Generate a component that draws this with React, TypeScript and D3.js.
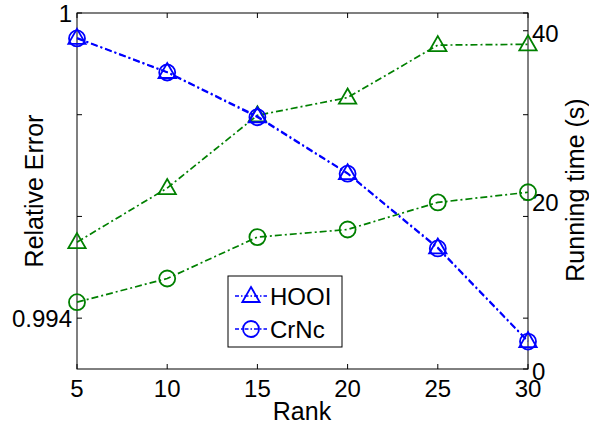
import React, { useEffect, useRef } from 'react'
import * as d3 from 'd3'

const ranks = [5, 10, 15, 20, 25, 30]
const errHOOI = [0.99951, 0.99884, 0.99797, 0.99685, 0.99539, 0.99355]
const errCrNc = [0.99950, 0.99883, 0.99795, 0.99684, 0.99537, 0.99354]
const timeHOOI = [15.0, 21.4, 30.0, 32.1, 38.3, 38.4]
const timeCrNc = [7.9, 10.7, 15.6, 16.5, 19.7, 20.9]
const leftTicks = [0.994, 0.996, 0.998, 1]
const leftLabels = ['0.994', '', '', '1']
const rightTicks = [0, 20, 40]
const legendNames = ['HOOI', 'CrNc']

const W = 589
const H = 429
const FONT = 'Liberation Sans, Arial, sans-serif'

export default function App() {
  const ref = useRef<SVGSVGElement>(null)

  useEffect(() => {
    const svg = d3.select(ref.current)
    svg.selectAll('*').remove()
    const m = { left: 77, right: 528, top: 13, bottom: 369 }

    const x = d3.scaleLinear().domain([5, 30]).range([m.left, m.right])
    const yL = d3.scaleLinear().domain([0.993, 1]).range([m.bottom, m.top])
    const yR = d3.scaleLinear().domain([0, 42.1]).range([m.bottom, m.top])

    const blue = '#0000ff'
    const green = '#008000'
    const dash = '7,3,2,3'

    // box
    svg.append('rect')
      .attr('x', m.left).attr('y', m.top)
      .attr('width', m.right - m.left).attr('height', m.bottom - m.top)
      .attr('fill', 'white').attr('stroke', 'black').attr('stroke-width', 1)

    const tl = 5
    // x ticks (bottom and top)
    ranks.forEach(r => {
      svg.append('line').attr('x1', x(r)).attr('x2', x(r))
        .attr('y1', m.bottom).attr('y2', m.bottom - tl).attr('stroke', 'black')
      svg.append('line').attr('x1', x(r)).attr('x2', x(r))
        .attr('y1', m.top).attr('y2', m.top + tl).attr('stroke', 'black')
      svg.append('text').text(r)
        .attr('x', x(r)).attr('y', 397)
        .attr('text-anchor', 'middle').attr('font-size', 24).attr('font-family', FONT)
    })

    // left ticks, mirrored on right
    leftTicks.forEach((t, i) => {
      svg.append('line').attr('x1', m.left).attr('x2', m.left + tl)
        .attr('y1', yL(t)).attr('y2', yL(t)).attr('stroke', 'black')
      svg.append('line').attr('x1', m.right).attr('x2', m.right - tl)
        .attr('y1', yL(t)).attr('y2', yL(t)).attr('stroke', 'black')
      if (leftLabels[i]) {
        svg.append('text').text(leftLabels[i])
          .attr('x', m.left - 5).attr('y', yL(t) + 9)
          .attr('text-anchor', 'end').attr('font-size', 24).attr('font-family', FONT)
      }
    })

    // right ticks
    rightTicks.forEach(t => {
      svg.append('line').attr('x1', m.right).attr('x2', m.right - tl)
        .attr('y1', yR(t)).attr('y2', yR(t)).attr('stroke', 'black')
      svg.append('text').text(t)
        .attr('x', m.right + 4).attr('y', yR(t) + 11)
        .attr('text-anchor', 'start').attr('font-size', 24).attr('font-family', FONT)
    })

    // axis labels
    svg.append('text').text('Rank')
      .attr('x', 302).attr('y', 420)
      .attr('text-anchor', 'middle').attr('font-size', 25).attr('font-family', FONT)
    svg.append('text').text('Relative Error')
      .attr('transform', `translate(43,191) rotate(-90)`)
      .attr('text-anchor', 'middle').attr('font-size', 25).attr('font-family', FONT)
    svg.append('text').text('Running time (s)')
      .attr('transform', `translate(584,190) rotate(-90)`)
      .attr('text-anchor', 'middle').attr('font-size', 25).attr('font-family', FONT)

    const tri = d3.symbol().type(d3.symbolTriangle).size(130)

    const drawSeries = (vals: number[], y: d3.ScaleLinear<number, number>, color: string, marker: string) => {
      const line = d3.line<number>().x((_, i) => x(ranks[i])).y(d => y(d))
      svg.append('path').attr('d', line(vals) as string)
        .attr('fill', 'none').attr('stroke', color).attr('stroke-width', 1.7)
        .attr('stroke-dasharray', dash)
      vals.forEach((v, i) => {
        if (marker === 'tri') {
          svg.append('path').attr('d', tri() as string)
            .attr('transform', `translate(${x(ranks[i])},${y(v) + 1})`)
            .attr('fill', 'none').attr('stroke', color).attr('stroke-width', 1.8)
        } else {
          svg.append('circle').attr('cx', x(ranks[i])).attr('cy', y(v)).attr('r', 8)
            .attr('fill', 'none').attr('stroke', color).attr('stroke-width', 1.8)
        }
      })
    }

    drawSeries(timeHOOI, yR, green, 'tri')
    drawSeries(timeCrNc, yR, green, 'circle')
    drawSeries(errHOOI, yL, blue, 'tri')
    drawSeries(errCrNc, yL, blue, 'circle')

    // legend
    const lg = svg.append('g').attr('transform', 'translate(228,276)')
    lg.append('rect').attr('width', 114).attr('height', 71)
      .attr('fill', 'white').attr('stroke', 'black')
    legendNames.forEach((name, i) => {
      const cy = 20 + i * 33
      lg.append('line').attr('x1', 7).attr('x2', 39).attr('y1', cy).attr('y2', cy)
        .attr('stroke', blue).attr('stroke-width', 1.6).attr('stroke-dasharray', '4,2,1.5,2')
      if (i === 0) {
        lg.append('path').attr('d', tri() as string)
          .attr('transform', `translate(23,${cy + 1})`)
          .attr('fill', 'none').attr('stroke', blue).attr('stroke-width', 1.8)
      } else {
        lg.append('circle').attr('cx', 23).attr('cy', cy).attr('r', 8)
          .attr('fill', 'none').attr('stroke', blue).attr('stroke-width', 1.8)
      }
      lg.append('text').text(name)
        .attr('x', 42).attr('y', cy + 9)
        .attr('font-size', 24).attr('font-family', FONT)
    })
  }, [])

  return (
    <svg ref={ref} width={W} height={H}
      style={{ position: 'absolute', left: 0, top: 0, background: 'white' }} />
  )
}
